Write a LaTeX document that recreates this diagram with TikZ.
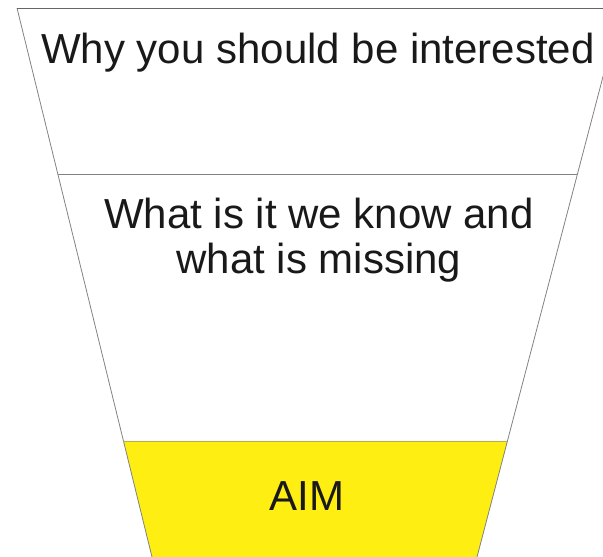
\documentclass[tikz,border=0pt]{standalone}
\usepackage{fontspec}
\setmainfont{Liberation Sans}
\usepackage{xcolor}
\definecolor{aimyellow}{RGB}{255, 238, 17}
\definecolor{funnelline}{RGB}{130, 130, 130}
\usetikzlibrary{positioning, calc}

\begin{document}
\begin{tikzpicture}[x=1pt, y=-1pt]

  \tikzstyle{funneltext} = [
    draw=none, inner sep=0pt,
    align=center,
    font=\fontsize{42}{45}\selectfont, text=black!90
  ]

  \useasboundingbox (0,0) rectangle (603,557);

  % funnel corners
  \coordinate (tl) at (17,8);
  \coordinate (tr) at (621,8);
  \coordinate (bl) at (152,557);
  \coordinate (br) at (477,557);

  % band borders
  \coordinate (ml) at ($(tl)!0.3024!(bl)$);
  \coordinate (mr) at ($(tr)!0.3024!(br)$);
  \coordinate (al) at ($(tl)!0.7887!(bl)$);
  \coordinate (ar) at ($(tr)!0.7887!(br)$);

  \fill[aimyellow] (al) -- (ar) -- (br) -- (bl) -- cycle;

  \draw[funnelline, line width=0.8pt] (tl) -- (bl);
  \draw[funnelline, line width=0.8pt] (tr) -- (br);
  \draw[black!60, line width=0.8pt] (tl) -- (tr);
  \draw[funnelline, line width=0.6pt] (ml) -- (mr);
  \draw[aimyellow!50!black!60, line width=0.6pt] (al) -- (ar);

  \node[funneltext, anchor=base] (why) at (318,63)
    {Why you should be interested};

  \node[funneltext, anchor=base] (know) at (319,273)
    {What is it we know and\\what is missing};

  \node[funneltext, anchor=base] (aim) at (307,510) {AIM};

\end{tikzpicture}
\end{document}
